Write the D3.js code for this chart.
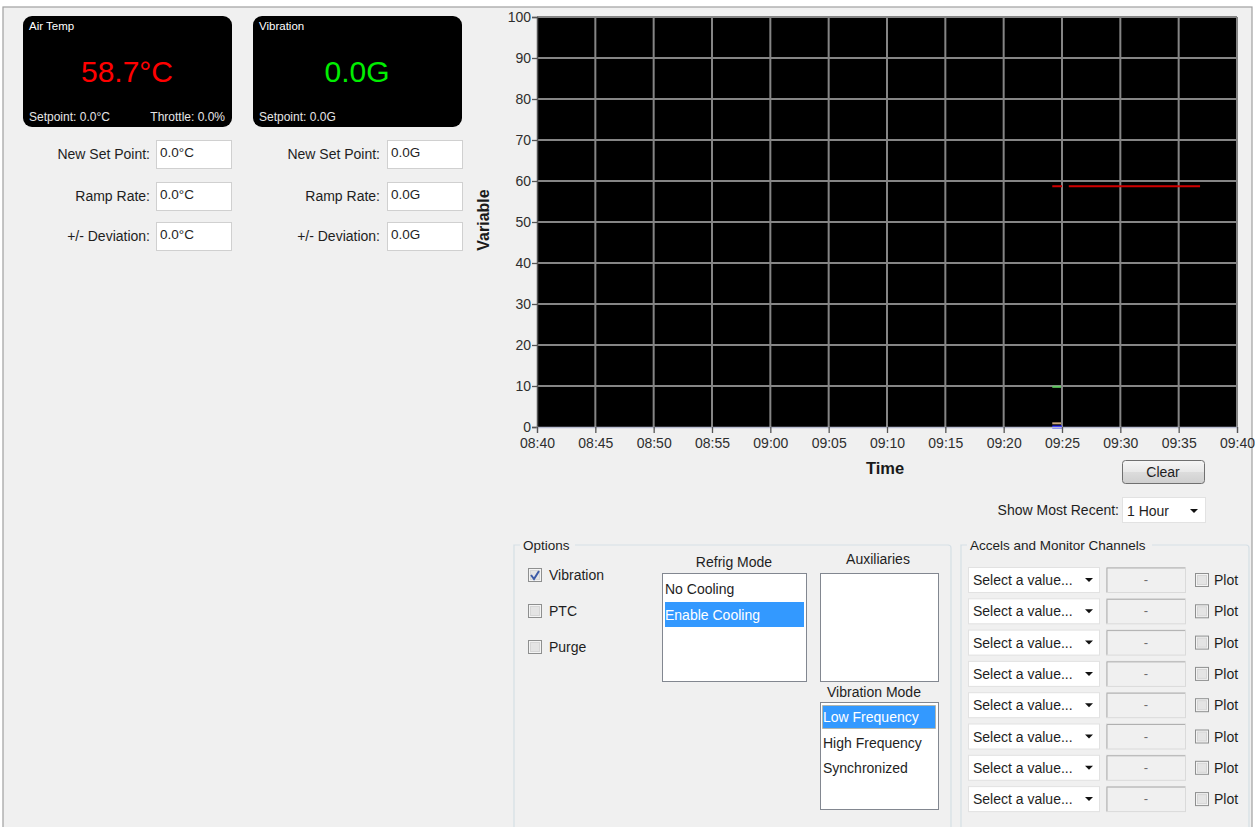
<!DOCTYPE html>
<html>
<head>
<meta charset="utf-8">
<script src="https://cdn.jsdelivr.net/npm/d3@7"></script>
<style>
  html, body { margin: 0; padding: 0; background: #ffffff; }
  svg { display: block; }
  text { font-family: "Liberation Sans", Arial, sans-serif; }
</style>
</head>
<body>
<svg id="chart" width="1255" height="827"></svg>
<script>
// ---------------- DATA ----------------
const yTickValues = [0, 10, 20, 30, 40, 50, 60, 70, 80, 90, 100];
const xTickLabels = ["08:40","08:45","08:50","08:55","09:00","09:05","09:10","09:15","09:20","09:25","09:30","09:35","09:40"];
const timeDomain = ["08:40:00", "09:40:00"];
const yDomain = [0, 100];

// Air temp series (red), with a short gap just after 09:25
const airTempTimes  = ["09:24:10", "09:25:00", "09:25:15", "09:25:35", "09:36:50"];
const airTempValues = [58.7, 58.7, null, 58.7, 58.7];
// Short trace segments near 09:25
const greenTimes  = ["09:24:10", "09:24:55"];
const greenValues = [9.8, 9.8];
const tanTimes    = ["09:24:10", "09:24:55"];
const tanValues   = [0.9, 0.9];
const blueTimes   = ["09:24:10", "09:25:00"];
const blueValues  = [0, 0];

const airTempReading = "58.7°C";
const vibReading = "0.0G";
const refrigItems = ["No Cooling", "Enable Cooling"];
const vibModeItems = ["Low Frequency", "High Frequency", "Synchronized"];
const optionItems = [["Vibration", true], ["PTC", false], ["Purge", false]];
const accelRowCount = 8;

// ---------------- DRAW ----------------
const svg = d3.select("#chart");
const parse = d3.timeParse("%H:%M:%S");
const fmt = d3.timeFormat("%H:%M");
const UI = "#1e1e1e";

// window background / frame
svg.append("rect").attr("x", 3).attr("y", 7).attr("width", 1249).attr("height", 830)
  .attr("fill", "#f0f0f0").attr("stroke", "#a0a0a0").attr("stroke-width", 1.2);

// ---- readout panels ----
function panel(x, title, value, color, setpoint, throttle) {
  const g = svg.append("g");
  g.append("rect").attr("x", x).attr("y", 16).attr("width", 209).attr("height", 111)
    .attr("rx", 9).attr("fill", "#000");
  g.append("text").attr("x", x + 6).attr("y", 30).attr("fill", "#fff")
    .attr("font-size", 11.5).text(title);
  g.append("text").attr("x", x + 104).attr("y", 82).attr("fill", color)
    .attr("font-size", 30).attr("text-anchor", "middle").text(value);
  g.append("text").attr("x", x + 6).attr("y", 121).attr("fill", "#e6e6e6")
    .attr("font-size", 12).text(setpoint);
  if (throttle) {
    g.append("text").attr("x", x + 202).attr("y", 121).attr("fill", "#e6e6e6")
      .attr("font-size", 12).attr("text-anchor", "end").text(throttle);
  }
}
panel(23, "Air Temp", airTempReading, "#ff0000", "Setpoint: 0.0°C", "Throttle: 0.0%");
panel(253, "Vibration", vibReading, "#00ee00", "Setpoint: 0.0G", null);

// ---- input fields ----
const fieldLabels = ["New Set Point:", "Ramp Rate:", "+/- Deviation:"];
const fieldY = [140, 182, 222];
function fieldCol(labelRight, boxX, val) {
  fieldLabels.forEach((lab, i) => {
    const y = fieldY[i];
    svg.append("text").attr("x", labelRight).attr("y", y + 19).attr("fill", UI)
      .attr("font-size", 14).attr("text-anchor", "end").text(lab);
    svg.append("rect").attr("x", boxX + 0.5).attr("y", y + 0.5).attr("width", 75).attr("height", 28)
      .attr("fill", "#fff").attr("stroke", "#d0d0d0");
    svg.append("text").attr("x", boxX + 4).attr("y", y + 17).attr("fill", UI)
      .attr("font-size", 13.5).text(val);
  });
}
fieldCol(150, 156, "0.0°C");
fieldCol(380, 387, "0.0G");

// ---- chart ----
const plot = { left: 537, right: 1237, top: 17, bottom: 427 };
const x = d3.scaleTime().domain(timeDomain.map(parse)).range([plot.left, plot.right]);
const y = d3.scaleLinear().domain(yDomain).range([plot.bottom, plot.top]);
const xTicks = xTickLabels.map(s => parse(s + ":00"));

svg.append("rect").attr("x", plot.left).attr("y", plot.top)
  .attr("width", plot.right - plot.left).attr("height", plot.bottom - plot.top).attr("fill", "#000");

// gridlines
svg.append("g").selectAll("line").data(yTickValues.slice(1)).join("line")
  .attr("x1", plot.left).attr("x2", plot.right)
  .attr("y1", d => y(d)).attr("y2", d => y(d))
  .attr("stroke", "#858585").attr("stroke-width", 2);
svg.append("g").selectAll("line").data(xTicks.slice(1)).join("line")
  .attr("x1", d => x(d)).attr("x2", d => x(d))
  .attr("y1", plot.top).attr("y2", plot.bottom)
  .attr("stroke", "#858585").attr("stroke-width", 2);

// series
function series(times, values, color, w) {
  const pts = times.map((t, i) => ({ t: parse(t), v: values[i] }));
  const line = d3.line().defined(d => d.v !== null).x(d => x(d.t)).y(d => y(d.v));
  svg.append("path").datum(pts).attr("d", line).attr("fill", "none")
    .attr("stroke", color).attr("stroke-width", w);
}
series(airTempTimes, airTempValues, "#d00000", 2);
series(greenTimes, greenValues, "#5fc85f", 2);
series(tanTimes, tanValues, "#c9a57a", 2);
series(blueTimes, blueValues, "#1a1aff", 3);

// axes
const yAxis = d3.axisLeft(y).tickValues(yTickValues).tickSize(5).tickPadding(1);
const xAxis = d3.axisBottom(x).tickValues(xTicks).tickFormat(fmt).tickSize(6).tickPadding(5);
const gy = svg.append("g").attr("transform", `translate(${plot.left},0)`).call(yAxis);
const gx = svg.append("g").attr("transform", `translate(0,${plot.bottom})`).call(xAxis);
[gy, gx].forEach(g => {
  g.selectAll("text").attr("font-family", "Liberation Sans, Arial, sans-serif")
    .attr("font-size", 14).attr("fill", "#2e2e2e");
  g.selectAll("line").attr("stroke", "#555").attr("stroke-width", 1.3);
});
gy.select(".domain").attr("stroke", "#555").attr("stroke-width", 1.5);
gx.select(".domain").attr("stroke", "#b8bcd0").attr("stroke-width", 1.5);

svg.append("text").attr("transform", `translate(489,220) rotate(-90)`)
  .attr("text-anchor", "middle").attr("font-size", 16).attr("font-weight", "bold")
  .attr("fill", "#1a1a1a").text("Variable");
svg.append("text").attr("x", 885).attr("y", 474).attr("text-anchor", "middle")
  .attr("font-size", 16.5).attr("font-weight", "bold").attr("fill", "#1a1a1a").text("Time");

// Clear button
const grad = svg.append("defs").append("linearGradient").attr("id", "btn")
  .attr("x1", 0).attr("x2", 0).attr("y1", 0).attr("y2", 1);
grad.append("stop").attr("offset", "0%").attr("stop-color", "#f6f6f6");
grad.append("stop").attr("offset", "50%").attr("stop-color", "#e8e8e8");
grad.append("stop").attr("offset", "51%").attr("stop-color", "#dcdcdc");
grad.append("stop").attr("offset", "100%").attr("stop-color", "#cfcfcf");
svg.append("rect").attr("x", 1122.5).attr("y", 460.5).attr("width", 82).attr("height", 23)
  .attr("rx", 3).attr("fill", "url(#btn)").attr("stroke", "#707070");
svg.append("text").attr("x", 1163).attr("y", 477).attr("text-anchor", "middle")
  .attr("font-size", 14).attr("fill", UI).text("Clear");

// Show most recent
svg.append("text").attr("x", 1119).attr("y", 515).attr("text-anchor", "end")
  .attr("font-size", 14).attr("fill", UI).text("Show Most Recent:");
svg.append("rect").attr("x", 1122.5).attr("y", 497.5).attr("width", 83).attr("height", 25)
  .attr("fill", "#fff").attr("stroke", "#e2e2e2");
svg.append("text").attr("x", 1127).attr("y", 516).attr("font-size", 14).attr("fill", UI).text("1 Hour");
function arrow(cx, cy) {
  svg.append("path").attr("d", `M${cx - 4},${cy - 2} L${cx + 4},${cy - 2} L${cx},${cy + 2} Z`).attr("fill", "#111");
}
arrow(1194, 511);

// ---- Options group ----
function groupBox(x0, x1, y0, y1, title, titleX, titleW) {
  const path = `M${x0 + 6},${y0} L${x0},${y0} Q${x0 - 0},${y0} ${x0},${y0 + 4} L${x0},${y1} M${titleX + titleW},${y0} L${x1 - 3},${y0} Q${x1},${y0} ${x1},${y0 + 3} L${x1},${y1}`;
  svg.append("path").attr("d", path).attr("fill", "none").attr("stroke", "#d5dfe5").attr("stroke-width", 1.2);
  svg.append("text").attr("x", titleX).attr("y", y0 + 5).attr("font-size", 13.5).attr("fill", UI).text(title);
}
groupBox(514, 951, 545, 830, "Options", 523, 52);
groupBox(961, 1249, 545, 830, "Accels and Monitor Channels", 970, 182);

function checkbox(x0, y0, checked) {
  svg.append("rect").attr("x", x0 + 0.5).attr("y", y0 + 0.5).attr("width", 13).attr("height", 13)
    .attr("fill", "#f4f4f4").attr("stroke", "#8e8f8f");
  svg.append("rect").attr("x", x0 + 2.5).attr("y", y0 + 2.5).attr("width", 9).attr("height", 9)
    .attr("fill", "#e4e4e4").attr("stroke", "#d6d6d6");
  if (checked) {
    svg.append("path").attr("d", `M${x0 + 3},${y0 + 7} L${x0 + 6},${y0 + 11} L${x0 + 11},${y0 + 3}`)
      .attr("fill", "none").attr("stroke", "#3c5aa6").attr("stroke-width", 2);
  }
}
optionItems.forEach(([lab, chk], i) => {
  const yy = 568 + i * 36;
  checkbox(528, yy, chk);
  svg.append("text").attr("x", 549).attr("y", yy + 12).attr("font-size", 14).attr("fill", UI).text(lab);
});

// list boxes
function listBox(x0, y0, w, h) {
  svg.append("rect").attr("x", x0 + 0.5).attr("y", y0 + 0.5).attr("width", w).attr("height", h)
    .attr("fill", "#fff").attr("stroke", "#828790");
}
svg.append("text").attr("x", 734).attr("y", 567).attr("text-anchor", "middle")
  .attr("font-size", 14).attr("fill", UI).text("Refrig Mode");
listBox(662, 573, 144, 108);
svg.append("rect").attr("x", 665).attr("y", 602).attr("width", 139).attr("height", 25).attr("fill", "#3399ff");
refrigItems.forEach((t, i) => {
  svg.append("text").attr("x", 665).attr("y", 594 + i * 25.5).attr("font-size", 14)
    .attr("fill", i === 1 ? "#fff" : UI).text(t);
});

svg.append("text").attr("x", 878).attr("y", 564).attr("text-anchor", "middle")
  .attr("font-size", 14).attr("fill", UI).text("Auxiliaries");
listBox(820, 573, 118, 108);

svg.append("text").attr("x", 874).attr("y", 697).attr("text-anchor", "middle")
  .attr("font-size", 14).attr("fill", UI).text("Vibration Mode");
listBox(820, 702, 118, 107);
svg.append("rect").attr("x", 822.5).attr("y", 705.5).attr("width", 113).attr("height", 23)
  .attr("fill", "#3399ff").attr("stroke", "#c8a060").attr("stroke-dasharray", "1,1");
vibModeItems.forEach((t, i) => {
  svg.append("text").attr("x", 823).attr("y", 722 + i * 25.5).attr("font-size", 14)
    .attr("fill", i === 0 ? "#fff" : UI).text(t);
});

// ---- Accels rows ----
d3.range(accelRowCount).forEach(i => {
  const yy = 567 + i * 31.3;
  svg.append("rect").attr("x", 968.5).attr("y", yy + 0.5).attr("width", 131).attr("height", 25)
    .attr("fill", "#fff").attr("stroke", "#e2e2e2");
  svg.append("text").attr("x", 973).attr("y", yy + 18).attr("font-size", 14).attr("fill", UI).text("Select a value...");
  arrow(1089, yy + 13);
  svg.append("rect").attr("x", 1106.5).attr("y", yy + 0.5).attr("width", 79).attr("height", 25)
    .attr("fill", "#f0f0f0").attr("stroke", "#dadada");
  svg.append("path").attr("d", `M${1107},${yy + 25} L${1107},${yy + 1} L${1185},${yy + 1}`)
    .attr("fill", "none").attr("stroke", "#b0b0b0");
  svg.append("text").attr("x", 1146).attr("y", yy + 17).attr("text-anchor", "middle")
    .attr("font-size", 13).attr("fill", "#6d6d6d").text("-");
  checkbox(1195, yy + 6, false);
  svg.append("text").attr("x", 1214).attr("y", yy + 18).attr("font-size", 14).attr("fill", UI).text("Plot");
});
</script>
</body>
</html>
